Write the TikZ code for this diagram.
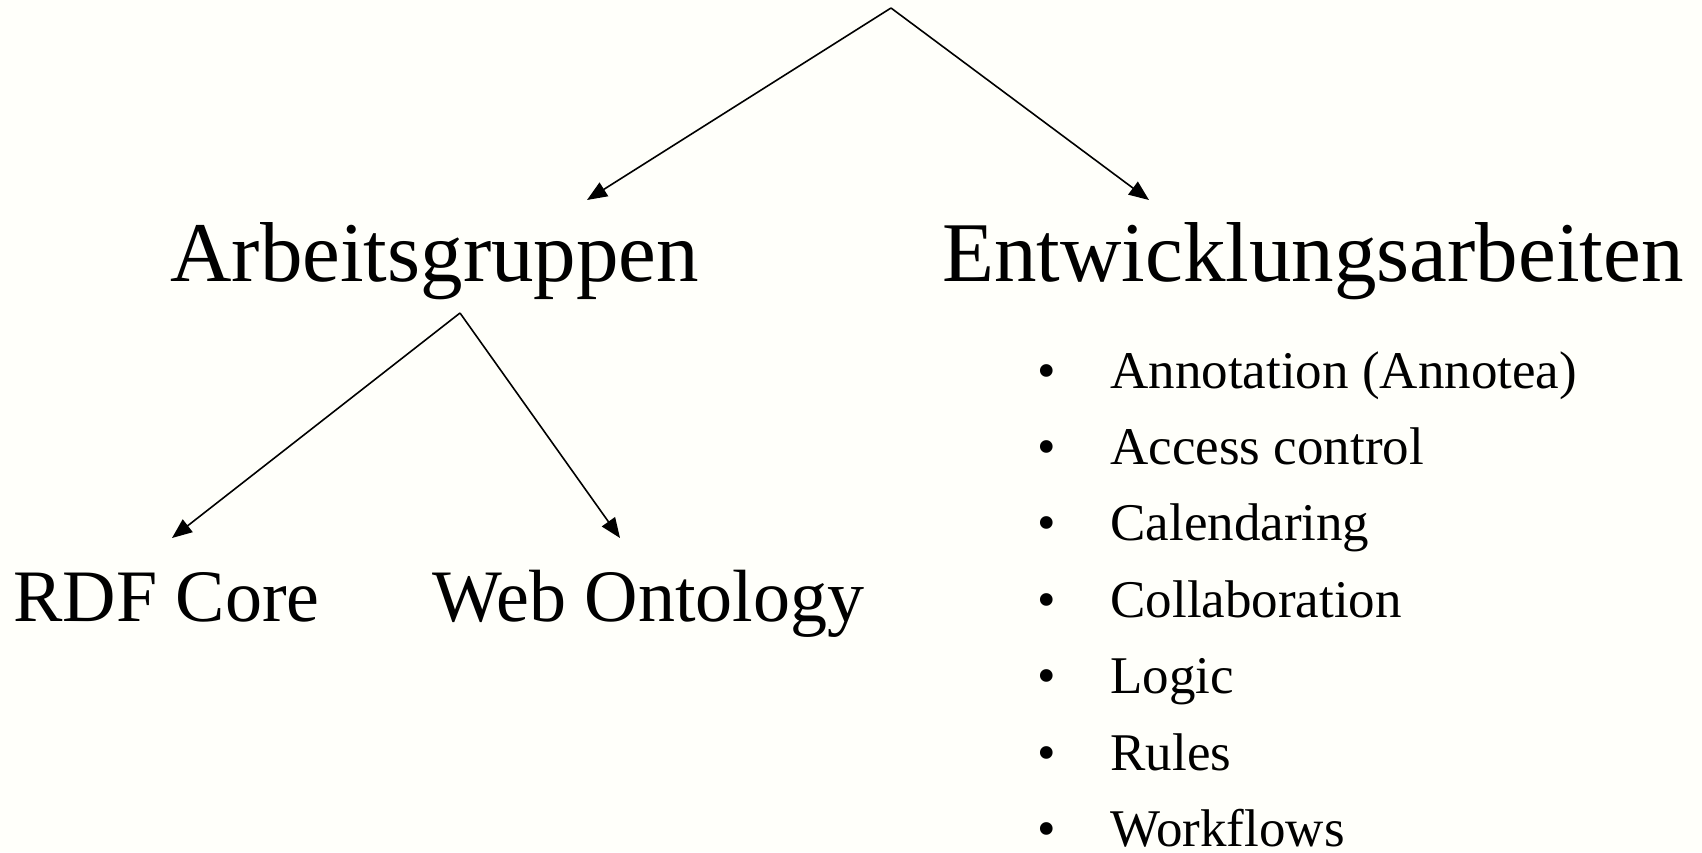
\documentclass[tikz,border=0pt]{standalone}
\usepackage{fontspec}
\setmainfont{Liberation Serif}
\usetikzlibrary{arrows.meta}
\definecolor{paper}{RGB}{255,255,250}
\begin{document}
\begin{tikzpicture}[x=0.5pt,y=-0.5pt,
  arr/.style={line width=0.8pt, -{Triangle[length=10pt,width=8pt]}},
  head/.style={anchor=base west, inner sep=0pt, font=\fontsize{42.5}{50}\selectfont},
  sub/.style={anchor=base west, inner sep=0pt, font=\fontsize{37}{44}\selectfont},
  item/.style={anchor=base west, inner sep=0pt, font=\fontsize{26.5}{32}\selectfont},
  dot/.style={anchor=base, inner sep=0pt, font=\fontsize{26.5}{32}\selectfont}]
  % page background and frame
  \fill[paper] (0,0) rectangle (1702,852);
  \useasboundingbox (0,0) rectangle (1702,852);

  % headings
  \node[head] (arb) at (170,281) {Arbeitsgruppen};
  \node[head] (ent) at (942,281) {Entwicklungsarbeiten};

  % working groups
  \node[sub] (rdf) at (13,621) {RDF Core};
  \node[sub] (web) at (432,621) {Web Ontology};

  % development activities
  \foreach \t [count=\i from 0] in {Annotation (Annotea), Access control,
      Calendaring, Collaboration, Logic, Rules, Workflows} {
    \node[dot] (bul\i) at (1047,{388+76.4*\i}) {\textbullet};
    \node[item] (itm\i) at (1110,{388+76.4*\i}) {\t};
  }

  % branching points and arrow ends
  \coordinate (root) at (891,8);
  \coordinate (arbIn) at (587,200);
  \coordinate (entIn) at (1149,200);
  \coordinate (arbOut) at (460,313);
  \coordinate (rdfIn) at (172,538);
  \coordinate (webIn) at (620,538);

  \draw[arr] (root) -- (arbIn);
  \draw[arr] (root) -- (entIn);
  \draw[arr] (arbOut) -- (rdfIn);
  \draw[arr] (arbOut) -- (webIn);
\end{tikzpicture}
\end{document}
